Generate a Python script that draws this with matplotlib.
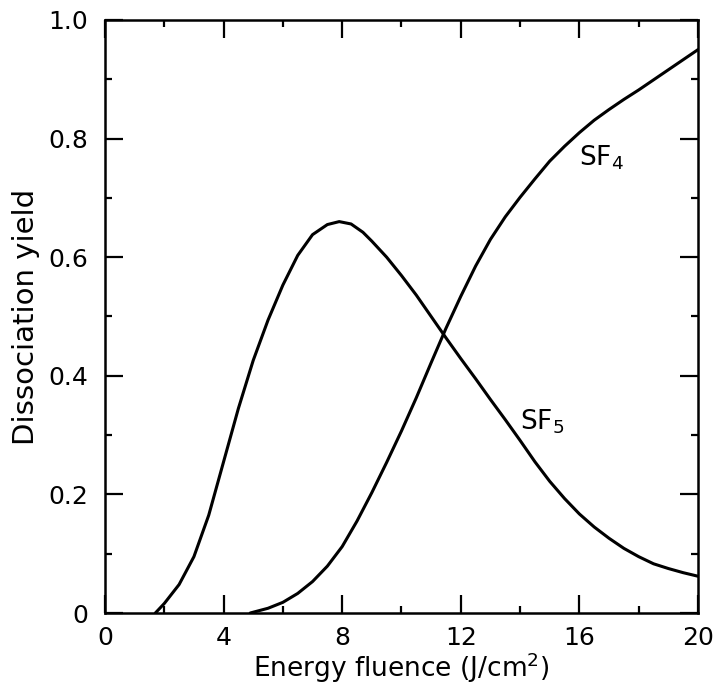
import matplotlib
matplotlib.use("Agg")
import matplotlib.pyplot as plt
from matplotlib.ticker import MultipleLocator, FixedLocator

# Data
sf5_x = [1.7, 2.0, 2.5, 3.0, 3.5, 4.0, 4.5, 5.0, 5.5, 6.0, 6.5, 7.0, 7.5, 7.9,
         8.3, 8.7, 9.0, 9.5, 10.0, 10.5, 11.0, 11.5, 12.0, 12.5, 13.0, 13.5,
         14.0, 14.5, 15.0, 15.5, 16.0, 16.5, 17.0, 17.5, 18.0, 18.5, 19.0,
         19.5, 20.0]
sf5_y = [0.0, 0.016, 0.048, 0.095, 0.165, 0.255, 0.345, 0.426, 0.494, 0.553,
         0.603, 0.638, 0.655, 0.660, 0.656, 0.642, 0.627, 0.600, 0.569, 0.536,
         0.500, 0.464, 0.429, 0.395, 0.360, 0.326, 0.291, 0.255, 0.222, 0.193,
         0.167, 0.145, 0.126, 0.109, 0.095, 0.083, 0.075, 0.068, 0.062]

sf4_x = [4.9, 5.5, 6.0, 6.5, 7.0, 7.5, 8.0, 8.5, 9.0, 9.5, 10.0, 10.5, 11.0,
         11.5, 12.0, 12.5, 13.0, 13.5, 14.0, 14.5, 15.0, 15.5, 16.0, 16.5,
         17.0, 17.5, 18.0, 18.5, 19.0, 19.5, 20.0]
sf4_y = [0.0, 0.008, 0.018, 0.033, 0.053, 0.079, 0.112, 0.155, 0.203, 0.254,
         0.307, 0.363, 0.422, 0.480, 0.534, 0.585, 0.630, 0.668, 0.701, 0.732,
         0.762, 0.787, 0.810, 0.831, 0.849, 0.866, 0.882, 0.899, 0.916, 0.933,
         0.950]

x_ticks = [0, 4, 8, 12, 16, 20]
y_ticks = [0, 0.2, 0.4, 0.6, 0.8, 1.0]
y_tick_labels = ["0", "0.2", "0.4", "0.6", "0.8", "1.0"]

plt.rcParams['font.family'] = ['DejaVu Sans']

fig = plt.figure(figsize=(7.17, 6.84), dpi=100)
ax = fig.add_axes([0.1464, 0.1038, 0.8271, 0.867])

ax.plot(sf5_x, sf5_y, color='black', lw=2.2, solid_joinstyle='round',
        solid_capstyle='round')
ax.plot(sf4_x, sf4_y, color='black', lw=2.2, solid_joinstyle='round',
        solid_capstyle='round')

ax.set_xlim(0, 20)
ax.set_ylim(0, 1.0)
ax.xaxis.set_major_locator(FixedLocator(x_ticks))
ax.xaxis.set_minor_locator(MultipleLocator(2))
ax.yaxis.set_major_locator(FixedLocator(y_ticks))
ax.yaxis.set_minor_locator(MultipleLocator(0.1))
ax.set_xticklabels([str(v) for v in x_ticks])
ax.set_yticklabels(y_tick_labels)

ax.tick_params(which='both', direction='in', top=True, right=True, width=1.6)
ax.tick_params(which='major', length=13, labelsize=18, pad=12)
ax.tick_params(axis='x', which='major', pad=9)
ax.tick_params(which='minor', length=5)
for s in ax.spines.values():
    s.set_linewidth(1.8)

ax.set_xlabel(r'Energy fluence (J/cm$^\mathregular{2}$)', fontsize=19, labelpad=1)
ax.set_ylabel('Dissociation yield', fontsize=21, labelpad=6)

ax.text(16.0, 0.755, r'SF$_\mathregular{4}$', fontsize=19)
ax.text(14.0, 0.31, r'SF$_\mathregular{5}$', fontsize=19)

fig.savefig('out.png', dpi=100)
